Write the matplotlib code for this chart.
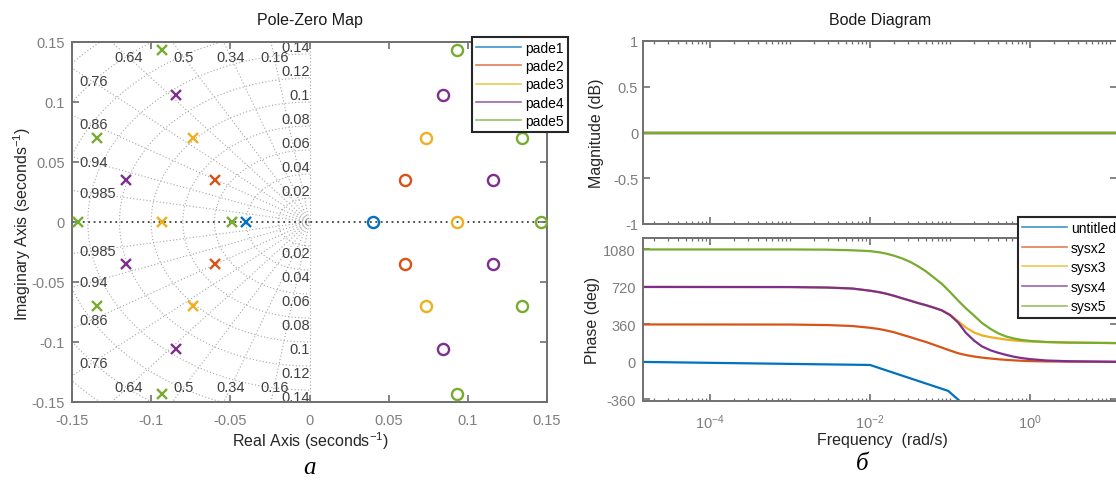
import numpy as np
import matplotlib
matplotlib.use('Agg')
import matplotlib.pyplot as plt
from matplotlib.lines import Line2D
from matplotlib.ticker import FixedLocator, LogLocator, NullFormatter, FuncFormatter

plt.rcParams['font.family'] = ['Liberation Sans', 'DejaVu Sans']
plt.rcParams['mathtext.fontset'] = 'custom'
plt.rcParams['mathtext.rm'] = 'Liberation Sans'
plt.rcParams['mathtext.it'] = 'Liberation Sans:italic'
plt.rcParams['mathtext.bf'] = 'Liberation Sans:bold'
plt.rcParams['axes.unicode_minus'] = False

W, H = 1116, 481

# matlab default line colours
colors = ['#0072BD', '#D95319', '#EDB120', '#7E2F8E', '#77AC30']

# ---- pole-zero map data ----
pz_names = ['pade1', 'pade2', 'pade3', 'pade4', 'pade5']
pade1_p = [-0.040 + 0j]
pade1_z = [0.040 + 0j]
pade2_p = [-0.060 + 0.035j, -0.060 - 0.035j]
pade2_z = [0.060 + 0.035j, 0.060 - 0.035j]
pade3_p = [-0.093 + 0j, -0.0735 + 0.070j, -0.0735 - 0.070j]
pade3_z = [0.093 + 0j, 0.0735 + 0.070j, 0.0735 - 0.070j]
pade4_p = [-0.116 + 0.035j, -0.116 - 0.035j, -0.084 + 0.106j, -0.084 - 0.106j]
pade4_z = [0.116 + 0.035j, 0.116 - 0.035j, 0.084 + 0.106j, 0.084 - 0.106j]
pade5_p = [-0.146 + 0j, -0.134 + 0.070j, -0.134 - 0.070j,
           -0.093 + 0.143j, -0.093 - 0.143j, -0.049 + 0j]
pade5_z = [0.146 + 0j, 0.134 + 0.070j, 0.134 - 0.070j,
           0.093 + 0.143j, 0.093 - 0.143j]
pz_poles = [pade1_p, pade2_p, pade3_p, pade4_p, pade5_p]
pz_zeros = [pade1_z, pade2_z, pade3_z, pade4_z, pade5_z]

zeta_vals = [0.16, 0.34, 0.5, 0.64, 0.76, 0.86, 0.94, 0.985]
zeta_text = ['0.16', '0.34', '0.5', '0.64', '0.76', '0.86', '0.94', '0.985']
wn_vals = [0.02, 0.04, 0.06, 0.08, 0.1, 0.12, 0.14]
wn_text = ['0.02', '0.04', '0.06', '0.08', '0.1', '0.12', '0.14']
wn_extra = [0.16, 0.18, 0.20]

pz_ticks = [-0.15, -0.1, -0.05, 0, 0.05, 0.1, 0.15]

# ---- bode data ----
bode_names = ['untitled1', 'sysx2', 'sysx3', 'sysx4', 'sysx5']
w_delay = [1.5e-5, 0.01, 0.095, 0.2]
ph_delay = [0, -29, -278, -496]
w_pade = [1.5e-5, 0.001, 0.003, 0.006, 0.01, 0.013, 0.016, 0.02, 0.025,
          0.032, 0.04, 0.05, 0.063, 0.079, 0.1, 0.126, 0.158, 0.2, 0.25,
          0.32, 0.4, 0.5, 0.63, 0.79, 1.0, 1.6, 3.0, 12.5]
ph_sysx2 = [360, 359, 354, 345, 328, 316, 302, 285, 262,
            238, 214, 192, 165, 138, 110, 84, 66, 52, 42,
            33, 26, 20, 15, 11, 8, 5, 3, 1]
ph_sysx3 = [720, 719, 714, 705, 684, 670, 655, 635, 612,
            588, 565, 545, 521, 496, 455, 392, 330, 283, 255,
            238, 226, 215, 206, 200, 196, 190, 186, 181]
ph_sysx4 = [720, 719, 714, 705, 684, 670, 655, 635, 612,
            588, 565, 545, 521, 495, 450, 380, 280, 205, 150,
            112, 88, 68, 50, 37, 27, 14, 7, 1]
ph_sysx5 = [1080, 1080, 1078, 1072, 1064, 1053, 1040, 1020, 995,
            960, 918, 870, 810, 750, 672, 590, 515, 445, 375,
            318, 275, 245, 225, 211, 202, 192, 186, 181]
w_mag = [1.5e-5, 12.5]
mag_db = [0.0, 0.0]
phase_ticks = [-360, 0, 360, 720, 1080]
mag_ticks = [-1, -0.5, 0, 0.5, 1]

spine_col = '#6f6f6f'
tick_lab_col = '#7d7d7d'
lab_col = '#262626'


def style_axes(ax):
    for s in ax.spines.values():
        s.set_color(spine_col)
        s.set_linewidth(1.4)
    ax.tick_params(which='both', direction='in', top=True, right=True,
                   color=spine_col, labelcolor=tick_lab_col, labelsize=10.5)
    ax.tick_params(which='major', length=5, width=1.2)
    ax.tick_params(which='minor', length=2.5, width=0.9)


fmt = FuncFormatter(lambda v, p: '%g' % v)

fig = plt.figure(figsize=(W / 100, H / 100), dpi=100)

# ================= pole-zero map =================
ax = fig.add_axes([72 / W, 78 / H, 475 / W, 360 / H])
style_axes(ax)
ax.set_xlim(-0.15, 0.15)
ax.set_ylim(-0.15, 0.15)

gcol = '#a6a6a6'
gls = (0, (1, 2))
ray = np.array([0, 0.3])
for z in zeta_vals:
    s = np.sqrt(1 - z * z)
    ax.plot(-z * ray, s * ray, color=gcol, ls=gls, lw=0.8, zorder=1)
    ax.plot(-z * ray, -s * ray, color=gcol, ls=gls, lw=0.8, zorder=1)
th = np.linspace(np.pi / 2, 3 * np.pi / 2, 300)
for r in wn_vals + wn_extra:
    ax.plot(r * np.cos(th), r * np.sin(th), color=gcol, ls=gls, lw=0.8, zorder=1)
ax.axvline(0, color=gcol, ls=gls, lw=0.8, zorder=1)
ax.axhline(0, color='#404040', ls=gls, lw=1.3, zorder=1)

# damping labels where the ray meets an inset box
ytop, xleft = 0.1375, -0.137
for z, t in zip(zeta_vals, zeta_text):
    s = np.sqrt(1 - z * z)
    r_top = ytop / s
    r_left = -xleft / z
    if r_top < r_left:
        for sg in (1, -1):
            ax.text(-z * r_top, sg * ytop, t, ha='center', va='center',
                    fontsize=10.5, color='#404040', zorder=2)
    else:
        for sg in (1, -1):
            ax.text(-0.1455, sg * s * r_left, t, ha='left', va='center',
                    fontsize=10.5, color='#404040', zorder=2)
for r, t in zip(wn_vals, wn_text):
    ax.text(0.0, r, t, ha='right', va='bottom', fontsize=10.5,
            color='#404040', zorder=2)
    ax.text(0.0, -r, t, ha='right', va='top', fontsize=10.5,
            color='#404040', zorder=2)

for c, pp, zz in zip(colors, pz_poles, pz_zeros):
    pp = np.array(pp)
    zz = np.array(zz)
    ax.plot(pp.real, pp.imag, 'x', color=c, ms=7, mew=1.7, zorder=4)
    ax.plot(zz.real, zz.imag, 'o', color=c, mfc='none', ms=8, mew=1.7, zorder=4)

ax.xaxis.set_major_locator(FixedLocator(pz_ticks))
ax.yaxis.set_major_locator(FixedLocator(pz_ticks))
ax.xaxis.set_major_formatter(fmt)
ax.yaxis.set_major_formatter(fmt)
ax.tick_params(axis='x', pad=8)
ax.tick_params(axis='y', pad=5)

pz_handles = [Line2D([], [], color=c, lw=1.2, alpha=0.75) for c in colors]
leg = fig.legend(pz_handles, pz_names, loc='upper left',
                 bbox_to_anchor=(472 / W, 1 - 38 / H), bbox_transform=fig.transFigure,
                 fancybox=False, edgecolor='#262626', framealpha=1, fontsize=10,
                 handlelength=3.2, handletextpad=0.3, labelspacing=0.3,
                 borderpad=0.3, borderaxespad=0)
leg.get_frame().set_linewidth(1.5)

fig.text(309.5 / W, 1 - 20 / H, 'Pole-Zero Map', ha='center', va='center',
         fontsize=11.5, color='#1a1a1a')
fig.text(310 / W, 1 - 441 / H, 'Real Axis (seconds$^{-1}$)', ha='center',
         va='center', fontsize=11.5, color=lab_col)
fig.text(22 / W, 1 - 224 / H, 'Imaginary Axis (seconds$^{-1}$)', ha='center',
         va='center', rotation=90, fontsize=11.5, color=lab_col)

# ================= bode =================
xl = (10 ** -4.8375, 10 ** 1.094)
axm = fig.add_axes([643 / W, (481 - 225) / H, 474.5 / W, 183 / H])
axp = fig.add_axes([643 / W, (481 - 402) / H, 474.5 / W, 163 / H])

for c in colors:
    axm.semilogx(w_mag, mag_db, color=c, lw=1.6)
phases = [ph_sysx2, ph_sysx3, ph_sysx4, ph_sysx5]
axp.semilogx(w_delay, ph_delay, color=colors[0], lw=1.6)
for c, ph in zip(colors[1:], phases):
    axp.semilogx(w_pade, ph, color=c, lw=1.6)

for a in (axm, axp):
    style_axes(a)
    a.set_xlim(*xl)
    a.xaxis.set_major_locator(FixedLocator([1e-4, 1e-2, 1e0]))
    a.xaxis.set_minor_locator(LogLocator(base=10, subs=np.arange(1, 10), numticks=30))
    a.xaxis.set_minor_formatter(NullFormatter())
axm.set_ylim(-1, 1)
axm.yaxis.set_major_locator(FixedLocator(mag_ticks))
axm.yaxis.set_major_formatter(fmt)
axm.tick_params(axis='x', labelbottom=False)
axp.set_ylim(-375, 1190)
axp.yaxis.set_major_locator(FixedLocator(phase_ticks))
axp.yaxis.set_major_formatter(fmt)
axp.tick_params(axis='x', pad=8)
axp.tick_params(axis='y', pad=5)

bode_handles = [Line2D([], [], color=c, lw=1.2, alpha=0.75) for c in colors]
leg2 = fig.legend(bode_handles, bode_names, loc='upper left',
                  bbox_to_anchor=(1018 / W, 1 - 218 / H), bbox_transform=fig.transFigure,
                  fancybox=False, edgecolor='#262626', framealpha=1, fontsize=10,
                  handlelength=3.2, handletextpad=0.3, labelspacing=0.4,
                  borderpad=0.3, borderaxespad=0)
leg2.get_frame().set_linewidth(1.5)

fig.text(880 / W, 1 - 20 / H, 'Bode Diagram', ha='center', va='center',
         fontsize=11.5, color='#1a1a1a')
fig.text(882 / W, 1 - 441 / H, 'Frequency  (rad/s)', ha='center', va='center',
         fontsize=11.5, color=lab_col)
fig.text(597 / W, 1 - 133 / H, 'Magnitude (dB)', ha='center', va='center',
         rotation=90, fontsize=11.5, color=lab_col)
fig.text(592 / W, 1 - 320 / H, 'Phase (deg)', ha='center', va='center',
         rotation=90, fontsize=11.5, color=lab_col)

fig.text(310 / W, 1 - 468 / H, 'а', ha='center', va='center', fontsize=18,
         family='Liberation Serif', style='italic')
fig.text(862 / W, 1 - 464 / H, 'б', ha='center', va='center', fontsize=18,
         family='Liberation Serif', style='italic')

fig.savefig('out.png', dpi=100)
